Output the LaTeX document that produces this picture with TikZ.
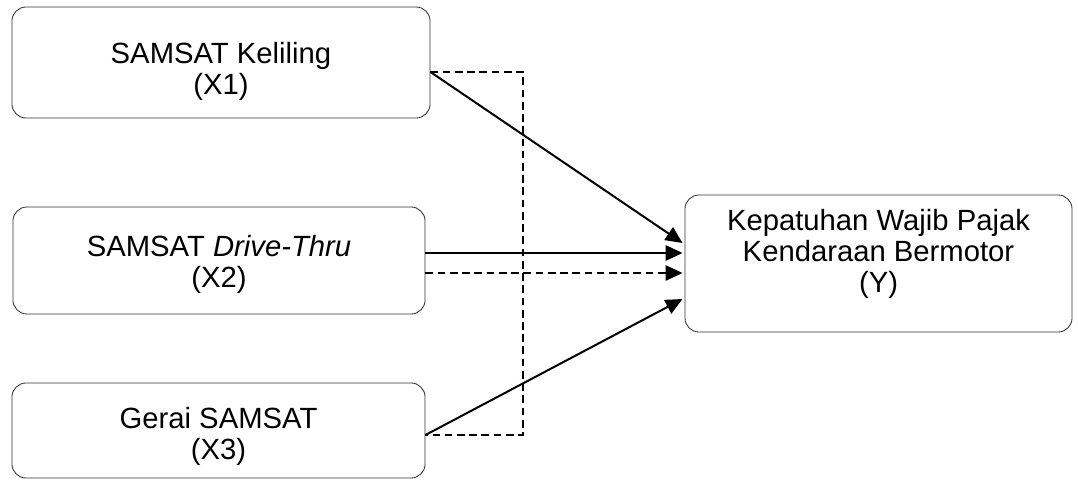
\documentclass[tikz,border=0pt]{standalone}
\usepackage{fontspec}
\setmainfont{Liberation Sans}
\usetikzlibrary{arrows.meta,calc}

\begin{document}
\begin{tikzpicture}[x=0.025cm,y=-0.025cm,
	varbox/.style={draw=black!80,line width=0.6pt,rounded corners=0.35cm,inner sep=0pt},
	boxtext/.style={align=center,font=\fontsize{20.8}{22}\selectfont,inner sep=0pt},
	path/.style={line width=0.5mm,-{Triangle[length=0.42cm,width=0.38cm]}},
	dashpath/.style={line width=0.45mm,dash pattern=on 5.5pt off 3.2pt}]
	\useasboundingbox (0,0) rectangle (1078,480);
	\begin{scope}[every node/.style={varbox}]
	\node[minimum width=10.45cm,minimum height=2.775cm] (x1) at (221,62.5) {};
	\node[minimum width=10.3cm,minimum height=2.675cm] (x2) at (219,260.5) {};
	\node[minimum width=10.325cm,minimum height=2.375cm] (x3) at (218.5,430.5) {};
	\node[minimum width=9.675cm,minimum height=3.425cm] (y) at (878.5,263.5) {};
	\end{scope}
	\begin{scope}[every node/.style={boxtext}]
	\node (x1text) at ($(x1)+(0,8.5)$) {SAMSAT Keliling\\(X1)};
	\node (x2text) at ($(x2)+(0,3.5)$) {SAMSAT \textit{Drive-Thru}\\(X2)};
	\node (x3text) at ($(x3)+(0,6)$) {Gerai SAMSAT\\(X3)};
	\node (ytext) at ($(y)+(0,-10)$) {Kepatuhan Wajib Pajak\\Kendaraan Bermotor\\(Y)};
	\end{scope}
	% titik keluar dan masuk garis
	\coordinate (x1out) at ($(x1.east)+(0,9.5)$);
	\coordinate (x2out) at ($(x2.east)+(0,-7.5)$);
	\coordinate (x2dash) at ($(x2.east)+(0,12.5)$);
	\coordinate (x3out) at ($(x3.east)+(0,4.5)$);
	\coordinate (yin1) at ($(y.west)+(-2,-20.5)$);
	\coordinate (yin2) at ($(y.west)+(-2,-10.5)$);
	\coordinate (yin3) at ($(y.west)+(-2,9.5)$);
	\coordinate (yin4) at ($(y.west)+(-2,35.5)$);
	\coordinate (bend) at (523,0);
	% pengaruh langsung
	\draw[path] (x1out) -- (yin1);
	\draw[path] (x2out) -- (yin2);
	\draw[path] (x3out) -- (yin4);
	% pengaruh simultan
	\draw[dashpath] (x1out) -| (bend |- x3out) -- (x3out);
	\draw[dashpath,-{Triangle[length=0.42cm,width=0.38cm]}] (x2dash) -- (yin3);
\end{tikzpicture}
\end{document}
